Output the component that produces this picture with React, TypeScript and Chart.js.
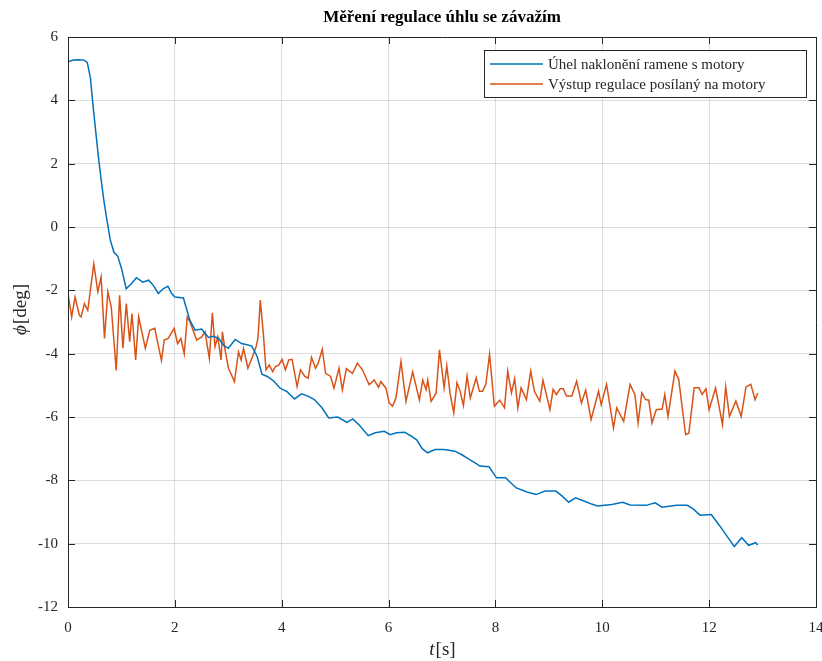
import React, { useEffect, useRef } from "react";
import { Chart, registerables } from "chart.js";

Chart.register(...registerables);

const TITLE = "Měření regulace úhlu se závažím";
const SERIES_NAMES = ["Úhel naklonění ramene s motory", "Výstup regulace posílaný na motory"];
const X_TICKS = [0, 2, 4, 6, 8, 10, 12, 14];
const Y_TICKS = [-12, -10, -8, -6, -4, -2, 0, 2, 4, 6];

const blueT = [0, 0.1, 0.2, 0.3, 0.36, 0.42, 0.47, 0.52, 0.57, 0.62, 0.67, 0.73, 0.79, 0.86, 0.93, 1.0, 1.09, 1.18, 1.28, 1.4, 1.51, 1.6, 1.69, 1.78, 1.87, 1.94, 2.0, 2.16, 2.28, 2.38, 2.5, 2.63, 2.72, 2.82, 2.92, 3.0, 3.13, 3.25, 3.35, 3.44, 3.54, 3.63, 3.73, 3.84, 3.97, 4.1, 4.24, 4.37, 4.5, 4.61, 4.75, 4.88, 5.05, 5.22, 5.33, 5.45, 5.62, 5.75, 5.92, 6.03, 6.15, 6.3, 6.42, 6.53, 6.63, 6.73, 6.87, 7.04, 7.24, 7.38, 7.51, 7.62, 7.71, 7.88, 8.02, 8.19, 8.3, 8.39, 8.59, 8.76, 8.93, 9.13, 9.25, 9.37, 9.5, 9.67, 9.8, 9.91, 10.18, 10.38, 10.52, 10.82, 10.99, 11.12, 11.39, 11.59, 11.7, 11.83, 12.04, 12.2, 12.35, 12.47, 12.61, 12.74, 12.87, 12.91];
const blueY = [5.22, 5.27, 5.28, 5.27, 5.2, 4.7, 3.8, 3.0, 2.2, 1.5, 0.85, 0.2, -0.4, -0.8, -0.92, -1.3, -1.95, -1.8, -1.6, -1.74, -1.68, -1.85, -2.1, -1.95, -1.87, -2.1, -2.21, -2.24, -2.94, -3.26, -3.22, -3.49, -3.45, -3.52, -3.75, -3.83, -3.55, -3.68, -3.72, -3.76, -4.09, -4.65, -4.72, -4.85, -5.09, -5.2, -5.43, -5.27, -5.35, -5.45, -5.7, -6.03, -6.0, -6.17, -6.06, -6.25, -6.59, -6.5, -6.45, -6.56, -6.5, -6.48, -6.6, -6.73, -7.0, -7.13, -7.03, -7.03, -7.08, -7.2, -7.34, -7.45, -7.55, -7.57, -7.92, -7.92, -8.1, -8.24, -8.37, -8.45, -8.34, -8.34, -8.5, -8.69, -8.55, -8.66, -8.75, -8.81, -8.76, -8.69, -8.78, -8.79, -8.71, -8.85, -8.79, -8.79, -8.9, -9.1, -9.08, -9.44, -9.8, -10.09, -9.81, -10.05, -9.97, -10.04];

const orangeT = [0, 0.069, 0.132, 0.213, 0.245, 0.307, 0.37, 0.483, 0.558, 0.62, 0.683, 0.746, 0.809, 0.903, 0.966, 1.028, 1.091, 1.154, 1.197, 1.266, 1.323, 1.448, 1.53, 1.624, 1.749, 1.8, 1.875, 1.987, 2.05, 2.113, 2.176, 2.232, 2.282, 2.408, 2.502, 2.564, 2.646, 2.702, 2.752, 2.803, 2.865, 2.89, 2.94, 3.003, 3.116, 3.191, 3.241, 3.285, 3.367, 3.455, 3.517, 3.555, 3.599, 3.661, 3.705, 3.768, 3.831, 3.881, 3.944, 4.006, 4.069, 4.132, 4.194, 4.288, 4.351, 4.433, 4.495, 4.558, 4.633, 4.683, 4.759, 4.821, 4.915, 4.978, 5.072, 5.135, 5.21, 5.323, 5.417, 5.511, 5.636, 5.73, 5.812, 5.856, 5.95, 6.013, 6.075, 6.138, 6.232, 6.326, 6.451, 6.577, 6.639, 6.702, 6.733, 6.796, 6.89, 6.953, 7.04, 7.09, 7.15, 7.22, 7.28, 7.34, 7.4, 7.47, 7.53, 7.64, 7.7, 7.76, 7.82, 7.89, 7.98, 8.08, 8.17, 8.23, 8.3, 8.36, 8.42, 8.48, 8.58, 8.66, 8.73, 8.83, 8.89, 9.02, 9.08, 9.14, 9.21, 9.27, 9.33, 9.43, 9.52, 9.61, 9.69, 9.79, 9.93, 9.98, 10.08, 10.21, 10.27, 10.4, 10.52, 10.61, 10.67, 10.74, 10.81, 10.87, 10.93, 11.01, 11.12, 11.17, 11.23, 11.36, 11.43, 11.56, 11.62, 11.72, 11.81, 11.87, 11.94, 12.0, 12.12, 12.25, 12.31, 12.38, 12.5, 12.6, 12.69, 12.78, 12.86, 12.91];
const orangeY = [-2.1, -2.84, -2.21, -2.79, -2.84, -2.42, -2.63, -1.16, -2.05, -1.58, -3.52, -2.05, -2.52, -4.53, -2.16, -3.83, -2.42, -3.62, -2.73, -4.2, -2.84, -3.83, -3.26, -3.2, -4.22, -3.57, -3.52, -3.2, -3.68, -3.52, -4.01, -2.84, -2.99, -3.57, -3.47, -3.31, -4.15, -2.71, -3.78, -3.47, -4.2, -3.31, -3.88, -4.46, -4.88, -3.94, -4.2, -3.83, -4.46, -4.09, -3.8, -3.52, -2.31, -3.47, -4.51, -4.36, -4.57, -4.41, -4.36, -4.18, -4.51, -4.2, -4.18, -5.04, -4.51, -4.72, -4.77, -4.12, -4.46, -4.3, -3.86, -4.62, -4.72, -5.09, -4.46, -5.14, -4.47, -4.62, -4.3, -4.51, -4.98, -4.83, -5.06, -4.88, -5.09, -5.56, -5.66, -5.4, -4.25, -5.51, -4.57, -5.46, -4.83, -5.14, -4.83, -5.51, -5.25, -3.88, -5.08, -4.39, -5.24, -5.87, -4.92, -5.19, -5.64, -4.71, -5.4, -4.76, -5.19, -5.19, -4.97, -4.02, -5.66, -5.47, -5.71, -4.55, -5.24, -4.79, -5.71, -5.08, -5.45, -4.55, -5.19, -5.5, -4.84, -5.77, -5.13, -5.29, -5.11, -5.11, -5.34, -5.34, -4.87, -5.56, -5.15, -6.08, -5.19, -5.61, -4.97, -6.35, -5.71, -6.14, -4.97, -5.29, -6.19, -5.24, -5.45, -5.47, -6.19, -5.77, -5.75, -5.29, -5.98, -4.55, -4.81, -6.56, -6.51, -5.08, -5.08, -5.29, -5.11, -5.77, -5.08, -6.24, -5.05, -5.98, -5.5, -5.98, -5.05, -4.97, -5.45, -5.24];

const BLUE = "#0072BD";
const ORANGE = "#D95319";
const AXIS = "#262626";
const SERIF = "'Liberation Serif', 'Times New Roman', serif";

const overlay = {
  id: "matlabOverlay",
  afterDraw(chart: any) {
    const { ctx, chartArea } = chart;
    const { left, right, top, bottom } = chartArea;
    const xs = chart.scales.x;
    const ys = chart.scales.y;
    ctx.save();
    ctx.strokeStyle = AXIS;
    ctx.lineWidth = 1;
    ctx.beginPath();
    ctx.rect(Math.round(left) + 0.5, Math.round(top) + 0.5, Math.round(right - left), Math.round(bottom - top));
    ctx.stroke();
    ctx.beginPath();
    X_TICKS.forEach((v) => {
      const p = Math.round(xs.getPixelForValue(v)) + 0.5;
      ctx.moveTo(p, bottom);
      ctx.lineTo(p, bottom - 7);
      ctx.moveTo(p, top);
      ctx.lineTo(p, top + 7);
    });
    Y_TICKS.forEach((v) => {
      const p = Math.round(ys.getPixelForValue(v)) + 0.5;
      ctx.moveTo(left, p);
      ctx.lineTo(left + 7, p);
      ctx.moveTo(right, p);
      ctx.lineTo(right - 7, p);
    });
    ctx.stroke();

    ctx.fillStyle = "#000";
    ctx.font = `bold 17px ${SERIF}`;
    ctx.textAlign = "center";
    ctx.textBaseline = "middle";
    ctx.fillText(TITLE, (left + right) / 2, 18);

    const cx = (left + right) / 2;
    ctx.font = `italic 19px ${SERIF}`;
    const tW = ctx.measureText("t").width;
    ctx.font = `19px ${SERIF}`;
    const sW = ctx.measureText("[s]").width;
    const x0 = cx - (tW + sW) / 2;
    ctx.textAlign = "left";
    ctx.fillStyle = AXIS;
    ctx.font = `italic 19px ${SERIF}`;
    ctx.fillText("t", x0, 650);
    ctx.font = `19px ${SERIF}`;
    ctx.fillText("[s]", x0 + tW + 1, 650);

    ctx.save();
    ctx.translate(21, (top + bottom) / 2 - 12);
    ctx.rotate(-Math.PI / 2);
    ctx.font = `italic 19px ${SERIF}`;
    const pW = ctx.measureText("ϕ").width;
    ctx.font = `19px ${SERIF}`;
    const dW = ctx.measureText("[deg]").width;
    const y0 = -(pW + dW) / 2;
    ctx.font = `italic 19px ${SERIF}`;
    ctx.fillText("ϕ", y0, 0);
    ctx.font = `19px ${SERIF}`;
    ctx.fillText("[deg]", y0 + pW + 1, 0);
    ctx.restore();

    const lx = 484, ly = 50, lw = 322, lh = 47;
    ctx.fillStyle = "#fff";
    ctx.fillRect(lx, ly, lw, lh);
    ctx.strokeStyle = AXIS;
    ctx.lineWidth = 1;
    ctx.strokeRect(lx + 0.5, ly + 0.5, lw, lh);
    const rows = [
      { c: BLUE, t: SERIES_NAMES[0], y: ly + 14 },
      { c: ORANGE, t: SERIES_NAMES[1], y: ly + 34 },
    ];
    ctx.font = `15px ${SERIF}`;
    ctx.textAlign = "left";
    ctx.textBaseline = "middle";
    rows.forEach((r) => {
      ctx.strokeStyle = r.c;
      ctx.lineWidth = 1.5;
      ctx.beginPath();
      ctx.moveTo(lx + 6, r.y);
      ctx.lineTo(lx + 59, r.y);
      ctx.stroke();
      ctx.fillStyle = AXIS;
      ctx.fillText(r.t, lx + 64, r.y + 1);
    });
    ctx.restore();
  },
};

export default function App() {
  const ref = useRef<HTMLCanvasElement | null>(null);
  useEffect(() => {
    document.body.style.margin = "0";
    const canvas = ref.current;
    if (!canvas) return;
    const blueData = blueT.map((t, i) => ({ x: t, y: blueY[i] }));
    const orangeData = orangeT.map((t, i) => ({ x: t, y: orangeY[i] }));
    const chart = new Chart(canvas, {
      type: "line",
      data: {
        datasets: [
          { label: SERIES_NAMES[0], data: blueData, borderColor: BLUE, borderWidth: 1.5, pointRadius: 0, tension: 0, fill: false },
          { label: SERIES_NAMES[1], data: orangeData, borderColor: ORANGE, borderWidth: 1.5, pointRadius: 0, tension: 0, fill: false },
        ],
      },
      options: {
        animation: false,
        responsive: false,
        devicePixelRatio: 1,
        layout: { padding: { left: 0, right: 6, top: 37, bottom: 0 } },
        plugins: { legend: { display: false }, title: { display: false }, tooltip: { enabled: false } },
        scales: {
          x: {
            type: "linear",
            min: 0,
            max: 14,
            afterBuildTicks: (s: any) => { s.ticks = X_TICKS.map((v) => ({ value: v })); },
            ticks: { color: AXIS, font: { family: SERIF, size: 15 }, padding: 12, maxRotation: 0, autoSkip: false },
            grid: { color: "rgba(0,0,0,0.13)", drawTicks: false },
            border: { color: AXIS },
            afterFit: (s: any) => { s.height = 54; s.paddingLeft = 0; s.paddingRight = 0; },
          },
          y: {
            type: "linear",
            min: -12,
            max: 6,
            afterBuildTicks: (s: any) => { s.ticks = Y_TICKS.map((v) => ({ value: v })); },
            ticks: { color: AXIS, font: { family: SERIF, size: 15 }, padding: 10, autoSkip: false },
            grid: { color: "rgba(0,0,0,0.13)", drawTicks: false },
            border: { color: AXIS },
            afterFit: (s: any) => { s.width = 68; s.paddingTop = 0; s.paddingBottom = 0; },
          },
        },
      },
      plugins: [overlay],
    });
    return () => chart.destroy();
  }, []);
  return (
    <div style={{ width: 822, height: 661 }}>
      <canvas ref={ref} width={822} height={661} style={{ display: "block", width: 822, height: 661 }} />
    </div>
  );
}
